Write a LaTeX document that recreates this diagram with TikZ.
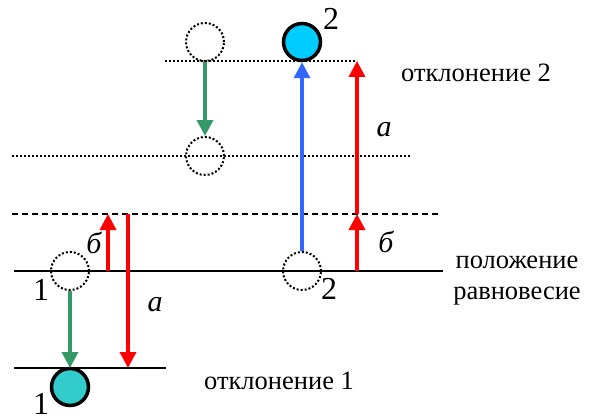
\documentclass[tikz,border=0pt]{standalone}
\usepackage{fontspec}
\setmainfont{Liberation Serif}
\usetikzlibrary{arrows.meta}
\definecolor{grn}{HTML}{339966}
\definecolor{blu}{HTML}{3366FF}
\definecolor{teal1}{HTML}{33CCCC}
\definecolor{sky}{HTML}{00CCFF}
\begin{document}
\begin{tikzpicture}[x=1pt,y=-1pt,
  lvl/.style={line width=2pt},
  ghost/.style={circle,draw,dotted,line width=2pt,minimum size=38pt,inner sep=0pt},
  ball/.style={circle,draw,line width=3.5pt,minimum size=37pt,inner sep=0pt},
  arr/.style={line width=3.5pt,-{Triangle[length=16pt,width=16pt]}},
  lbl/.style={font=\fontsize{26.5}{31}\selectfont,inner sep=0pt},
  num/.style={font=\fontsize{32}{34}\selectfont,inner sep=0pt},
  let/.style={font=\fontsize{30}{32}\selectfont\itshape,inner sep=0pt}]
\useasboundingbox (0,0) rectangle (596,417);
% levels
\draw[lvl] (14,271) -- (443,271);
\draw[lvl,dash pattern=on 6pt off 4pt] (12,214) -- (440,214);
\draw[lvl,dotted] (12,156) -- (410,156);
\draw[lvl,dotted] (165,61) -- (357,61);
\draw[lvl] (14,368) -- (166,368);
% positions of the two points
\node[ghost] (g1) at (70,271) {};
\node[ball,fill=teal1] (b1) at (70,387) {};
\node[ghost] (g2) at (302,271) {};
\node[ghost] (gt) at (205,42) {};
\node[ghost] (gm) at (205,156) {};
\node[ball,fill=sky] (b2) at (302,42) {};
% arrow end points
\coordinate (l1) at (70,368);
\coordinate (rb0) at (357,271);
\coordinate (rb1) at (357,214);
\coordinate (ra1) at (357,61);
\coordinate (lb0) at (108,271);
\coordinate (lb1) at (108,214);
\coordinate (la0) at (128,214);
\coordinate (la1) at (128,368);
% connectors
\draw[arr,grn] (gt.south) -- (gm.north);
\draw[arr,grn] (g1.south) -- (l1);
\draw[arr,blu] (g2.north) -- (b2.south);
\draw[arr,red] (rb0) -- (rb1);
\draw[arr,red] (rb1) -- (ra1);
\draw[arr,red] (lb0) -- (lb1);
\draw[arr,red] (la0) -- (la1);
% labels
\node[let] (ta1) at (384,130) {а};
\node[let] (tb1) at (386,242) {б};
\node[let] (tb2) at (94,243) {б};
\node[let] (ta2) at (155,305) {а};
\node[num] (n1a) at (41,290) {1};
\node[num] (n1b) at (41,404) {1};
\node[num] (n2a) at (329,289) {2};
\node[num] (n2b) at (331,19) {2};
\node[lbl] (t1) at (476,73) {отклонение 2};
\node[lbl,align=center] (t2) at (517,281) {положение\\равновесие};
\node[lbl] (t3) at (279,381) {отклонение 1};
\end{tikzpicture}
\end{document}
